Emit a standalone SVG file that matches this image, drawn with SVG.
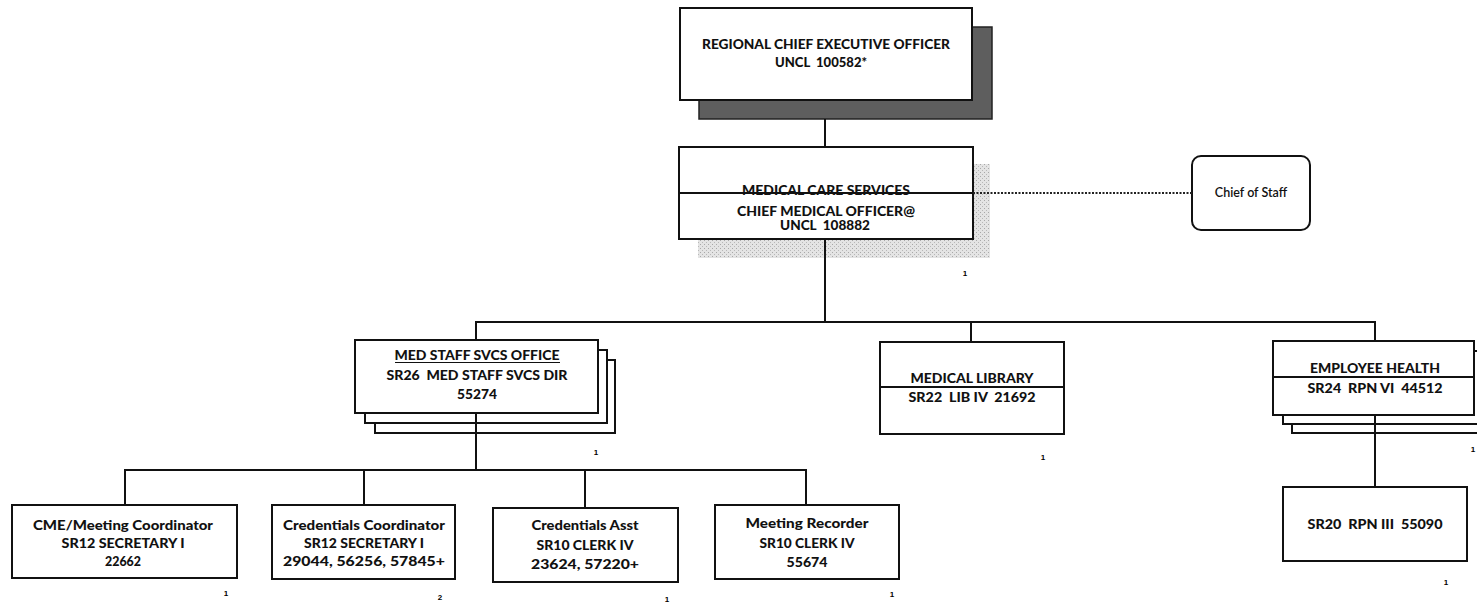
<svg xmlns="http://www.w3.org/2000/svg" width="1477" height="603" viewBox="0 0 1477 603">
<defs>
<pattern id="stip" width="4" height="4" patternUnits="userSpaceOnUse">
<rect width="4" height="4" fill="#e4e4e4"/>
<rect x="0" y="0" width="1" height="1" fill="#a8a8a8"/>
<rect x="2" y="2" width="1" height="1" fill="#b8b8b8"/>
</pattern>
</defs>
<style>
.box{fill:#fff;stroke:#111;stroke-width:2}
.t{font-family:Lato,"Liberation Sans",sans-serif;font-weight:900;font-size:13px;fill:#111;text-anchor:middle;white-space:pre}
.tn{font-family:Lato,"Liberation Sans",sans-serif;font-weight:600;font-size:12.5px;fill:#111;text-anchor:middle}
.n{font-family:"Liberation Sans",sans-serif;font-weight:bold;font-size:8px;fill:#000;text-anchor:middle}
.c{stroke:#111;stroke-width:2;fill:none}
.d{stroke:#222;stroke-width:2;fill:none;stroke-dasharray:2 1.5}
</style>
<rect width="1477" height="603" fill="#fff"/>

<g id="rceo">
<rect x="699" y="27" width="293" height="92" fill="#5e5e5e" stroke="#222" stroke-width="1.5"/>
<rect class="box" x="680" y="8" width="292" height="92"/>
<text class="t" x="826" y="49" textLength="248" lengthAdjust="spacingAndGlyphs">REGIONAL CHIEF EXECUTIVE OFFICER</text>
<text class="t" x="821" y="67" textLength="92" lengthAdjust="spacingAndGlyphs">UNCL  100582*</text>
</g>

<g id="mcs">
<rect x="698" y="164" width="292" height="94" fill="url(#stip)"/>
<rect class="box" x="679" y="147" width="294" height="92"/>
<text class="t" x="826" y="195" textLength="168" lengthAdjust="spacingAndGlyphs">MEDICAL CARE SERVICES</text>
<line x1="679" y1="193" x2="973" y2="193" stroke="#111" stroke-width="2"/>
<text class="t" x="826" y="216" textLength="178" lengthAdjust="spacingAndGlyphs">CHIEF MEDICAL OFFICER@</text>
<text class="t" x="825" y="230" textLength="90" lengthAdjust="spacingAndGlyphs">UNCL  108882</text>
<text class="n" x="965" y="276">1</text>
</g>

<g id="cos">
<rect class="box" x="1192" y="156" width="118" height="74" rx="9"/>
<text class="tn" x="1251" y="197">Chief of Staff</text>
</g>

<g id="medstaff">
<rect class="box" x="375" y="360" width="240" height="73"/>
<rect class="box" x="365" y="350" width="242" height="73"/>
<rect class="box" x="355" y="340" width="243" height="73"/>
<text class="t" x="477" y="360" textLength="165" lengthAdjust="spacingAndGlyphs">MED STAFF SVCS OFFICE</text>
<line x1="395" y1="362.5" x2="560" y2="362.5" stroke="#111" stroke-width="1"/>
<text class="t" x="477" y="380" textLength="181" lengthAdjust="spacingAndGlyphs">SR26  MED STAFF SVCS DIR</text>
<text class="t" x="477" y="399" textLength="40" lengthAdjust="spacingAndGlyphs">55274</text>
<text class="n" x="596" y="455">1</text>
</g>

<g id="medlib">
<rect class="box" x="880" y="342" width="184" height="92"/>
<text class="t" x="972" y="383" textLength="123" lengthAdjust="spacingAndGlyphs">MEDICAL LIBRARY</text>
<line x1="880" y1="387" x2="1064" y2="387" stroke="#111" stroke-width="2"/>
<text class="t" x="972" y="402" textLength="127" lengthAdjust="spacingAndGlyphs">SR22  LIB IV  21692</text>
<text class="n" x="1043" y="460">1</text>
</g>

<g id="emphealth">
<rect class="box" x="1292" y="361" width="200" height="72"/>
<rect class="box" x="1283" y="351" width="200" height="73"/>
<rect class="box" x="1273" y="341" width="201" height="74"/>
<text class="t" x="1375" y="373" textLength="130" lengthAdjust="spacingAndGlyphs">EMPLOYEE HEALTH</text>
<line x1="1273" y1="377" x2="1474" y2="377" stroke="#111" stroke-width="2"/>
<text class="t" x="1375" y="393" textLength="135" lengthAdjust="spacingAndGlyphs">SR24  RPN VI  44512</text>
<text class="n" x="1473" y="452">1</text>
</g>

<g id="rpn3">
<rect class="box" x="1283" y="487" width="184" height="74"/>
<text class="t" x="1375" y="529" textLength="135" lengthAdjust="spacingAndGlyphs">SR20  RPN III  55090</text>
<text class="n" x="1446" y="585">1</text>
</g>

<g id="cme">
<rect class="box" x="12" y="505" width="225" height="73"/>
<text class="t" x="123" y="530" textLength="180" lengthAdjust="spacingAndGlyphs">CME/Meeting Coordinator</text>
<text class="t" x="123" y="548" textLength="123" lengthAdjust="spacingAndGlyphs">SR12 SECRETARY I</text>
<text class="t" x="123" y="566" textLength="36" lengthAdjust="spacingAndGlyphs">22662</text>
<text class="n" x="226" y="596">1</text>
</g>

<g id="credcoord">
<rect class="box" x="272" y="505" width="183" height="74"/>
<text class="t" x="364" y="530" textLength="162" lengthAdjust="spacingAndGlyphs">Credentials Coordinator</text>
<text class="t" x="364" y="548" textLength="120" lengthAdjust="spacingAndGlyphs">SR12 SECRETARY I</text>
<text class="t" x="364" y="566" textLength="162" lengthAdjust="spacingAndGlyphs">29044, 56256, 57845+</text>
<text class="n" x="440" y="600">2</text>
</g>

<g id="credasst">
<rect class="box" x="493" y="508" width="185" height="74"/>
<text class="t" x="585" y="530" textLength="107" lengthAdjust="spacingAndGlyphs">Credentials Asst</text>
<text class="t" x="585" y="550" textLength="97" lengthAdjust="spacingAndGlyphs">SR10 CLERK IV</text>
<text class="t" x="585" y="569" textLength="108" lengthAdjust="spacingAndGlyphs">23624, 57220+</text>
<text class="n" x="667" y="602">1</text>
</g>

<g id="meetrec">
<rect class="box" x="715" y="505" width="184" height="74"/>
<text class="t" x="807" y="528" textLength="123" lengthAdjust="spacingAndGlyphs">Meeting Recorder</text>
<text class="t" x="807" y="548" textLength="95" lengthAdjust="spacingAndGlyphs">SR10 CLERK IV</text>
<text class="t" x="807" y="567" textLength="41" lengthAdjust="spacingAndGlyphs">55674</text>
<text class="n" x="892" y="597">1</text>
</g>

<g id="connectors">
<line class="c" x1="825" y1="119" x2="825" y2="147"/>
<line class="d" x1="973" y1="193" x2="1192" y2="193"/>
<line class="c" x1="825" y1="239" x2="825" y2="322"/>
<polyline class="c" points="476,340 476,322 1375,322 1375,341"/>
<line class="c" x1="971" y1="322" x2="971" y2="342"/>
<line class="c" x1="476" y1="413" x2="476" y2="470"/>
<polyline class="c" points="125,505 125,470 806,470 806,505"/>
<line class="c" x1="364" y1="470" x2="364" y2="505"/>
<line class="c" x1="585" y1="470" x2="585" y2="508"/>
<line class="c" x1="1375" y1="415" x2="1375" y2="487"/>
</g>
</svg>
